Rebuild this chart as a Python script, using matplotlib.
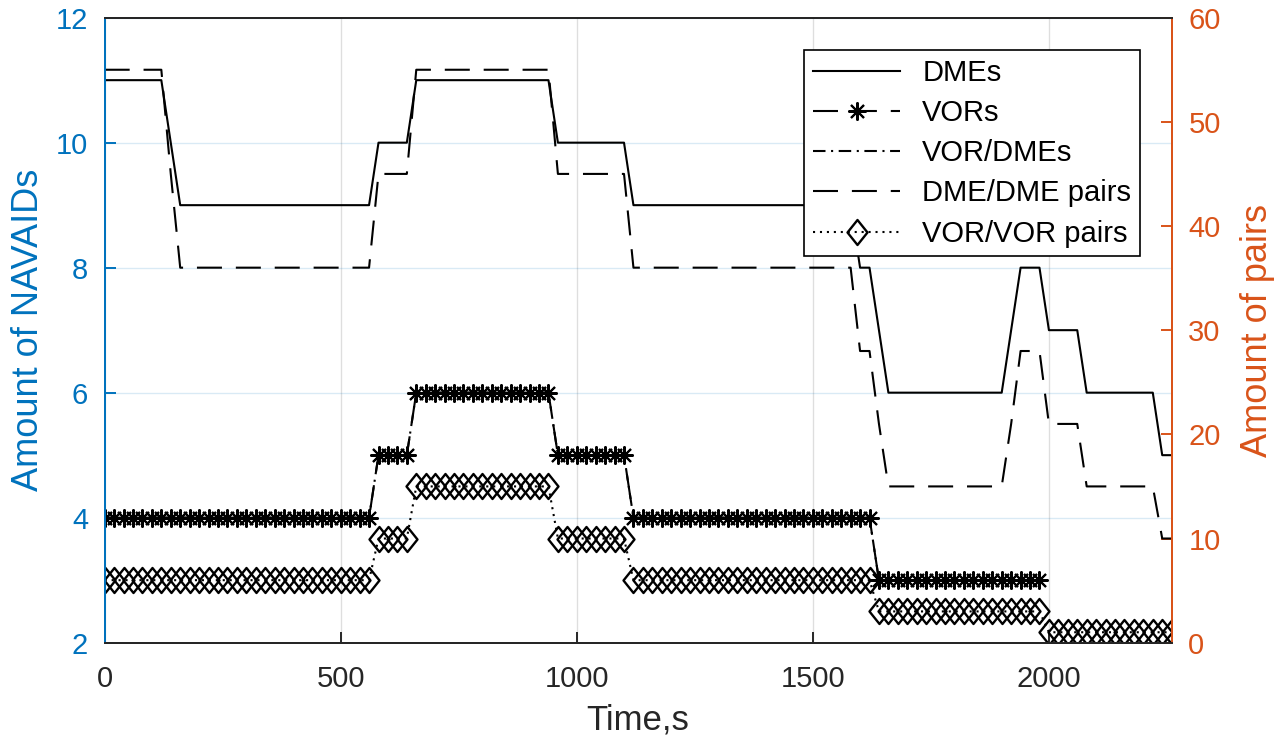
import numpy as np
import matplotlib
matplotlib.use('Agg')
import matplotlib.pyplot as plt
from matplotlib.path import Path

plt.rcParams['font.family'] = ['Liberation Sans', 'DejaVu Sans']
plt.rcParams['lines.scale_dashes'] = False

# Time samples (s), one every 20 s
time_s = np.arange(0, 2261, 20)

# Number of NAVAIDs in view (left axis)
dmes = ([11]*7 + [10] + [9]*21 + [10]*4 + [11]*15 + [10]*8 + [9]*24 + [8]*2 + [7]
        + [6]*13 + [7] + [8]*3 + [7]*4 + [6]*8 + [5]*2)
vors = ([4]*29 + [5]*4 + [6]*15 + [5]*8 + [4]*26 + [3]*18 + [np.nan]*14)
vor_dmes = vors

# Number of pairs (right axis)
dme_dme_pairs = ([55]*7 + [45] + [36]*21 + [45]*4 + [55]*15 + [45]*8 + [36]*24 + [28]*2 + [21]
                 + [15]*13 + [21] + [28]*3 + [21]*4 + [15]*8 + [10]*2)
vor_vor_pairs = ([6]*29 + [10]*4 + [15]*15 + [10]*8 + [6]*26 + [3]*18 + [1]*14)

blue = '#0072BD'
orange = '#D95319'
dark = '#262626'

diamond = Path([(0, 1), (0.8, 0), (0, -1), (-0.8, 0), (0, 1)],
               [Path.MOVETO, Path.LINETO, Path.LINETO, Path.LINETO, Path.CLOSEPOLY])

fig = plt.figure(figsize=(12.78, 7.36), dpi=100)
ax = fig.add_axes([0.0819, 0.1268, 0.8349, 0.8492])
ax2 = ax.twinx()

lw = 1.5
l1, = ax.plot(time_s, dmes, '-', color='k', lw=lw, label='DMEs')
l2, = ax.plot(time_s, vors, color='k', lw=lw, dashes=(18, 10), marker=(8, 2, 0),
              ms=13, mew=1.5, label='VORs')
l3, = ax.plot(time_s, vor_dmes, color='k', lw=lw, dashes=(9, 4, 1.5, 4), label='VOR/DMEs')
l4, = ax2.plot(time_s, dme_dme_pairs, color='k', lw=lw, dashes=(18, 10), label='DME/DME pairs')
l5, = ax2.plot(time_s, vor_vor_pairs, color='k', lw=lw, dashes=(1.5, 3.5), marker=diamond,
               ms=18, mfc='none', mec='k', mew=1.7, label='VOR/VOR pairs')

ax.set_xlim(0, 2260)
ax.set_xticks([0, 500, 1000, 1500, 2000])
ax.set_ylim(2, 12)
ax.set_yticks(range(2, 13, 2))
ax2.set_ylim(0, 60)
ax2.set_yticks(range(0, 61, 10))

ax.xaxis.grid(True, color=dark, alpha=0.15, lw=1)
ax.yaxis.grid(True, color=blue, alpha=0.15, lw=1)
ax.set_axisbelow(True)

ax.tick_params(axis='x', direction='in', length=8, width=1.4, colors=dark, labelsize=21, pad=16)
ax.tick_params(axis='y', direction='in', length=8, width=1.4, colors=blue, labelsize=21, pad=12)
ax2.tick_params(axis='y', direction='in', length=8, width=1.4, colors=orange, labelsize=21, pad=12)

for a in (ax, ax2):
    a.spines['left'].set_color(blue)
    a.spines['right'].set_color(orange)
    a.spines['bottom'].set_color(dark)
    a.spines['top'].set_color(dark)
    for s in a.spines.values():
        s.set_linewidth(1.4)

ax.set_xlabel('Time,s', fontsize=25, color=dark)
ax.set_ylabel('Amount of NAVAIDs', fontsize=26, color=blue)
ax2.set_ylabel('Amount of pairs', fontsize=26, color=orange)
ax.xaxis.set_label_coords(0.5, -0.097)
ax.yaxis.set_label_coords(-0.055, 0.5)
ax2.yaxis.set_label_coords(1.064, 0.5)

leg = ax2.legend([l1, l2, l3, l4, l5], [h.get_label() for h in [l1, l2, l3, l4, l5]],
                 loc='upper right', bbox_to_anchor=(0.9703, 0.9483), borderaxespad=0,
                 fontsize=21, handlelength=3.0, handletextpad=0.75, borderpad=0.3,
                 labelspacing=0.42, fancybox=False, framealpha=1, edgecolor='k')
leg.get_frame().set_linewidth(1.2)

plt.savefig('out.png', dpi=100)
